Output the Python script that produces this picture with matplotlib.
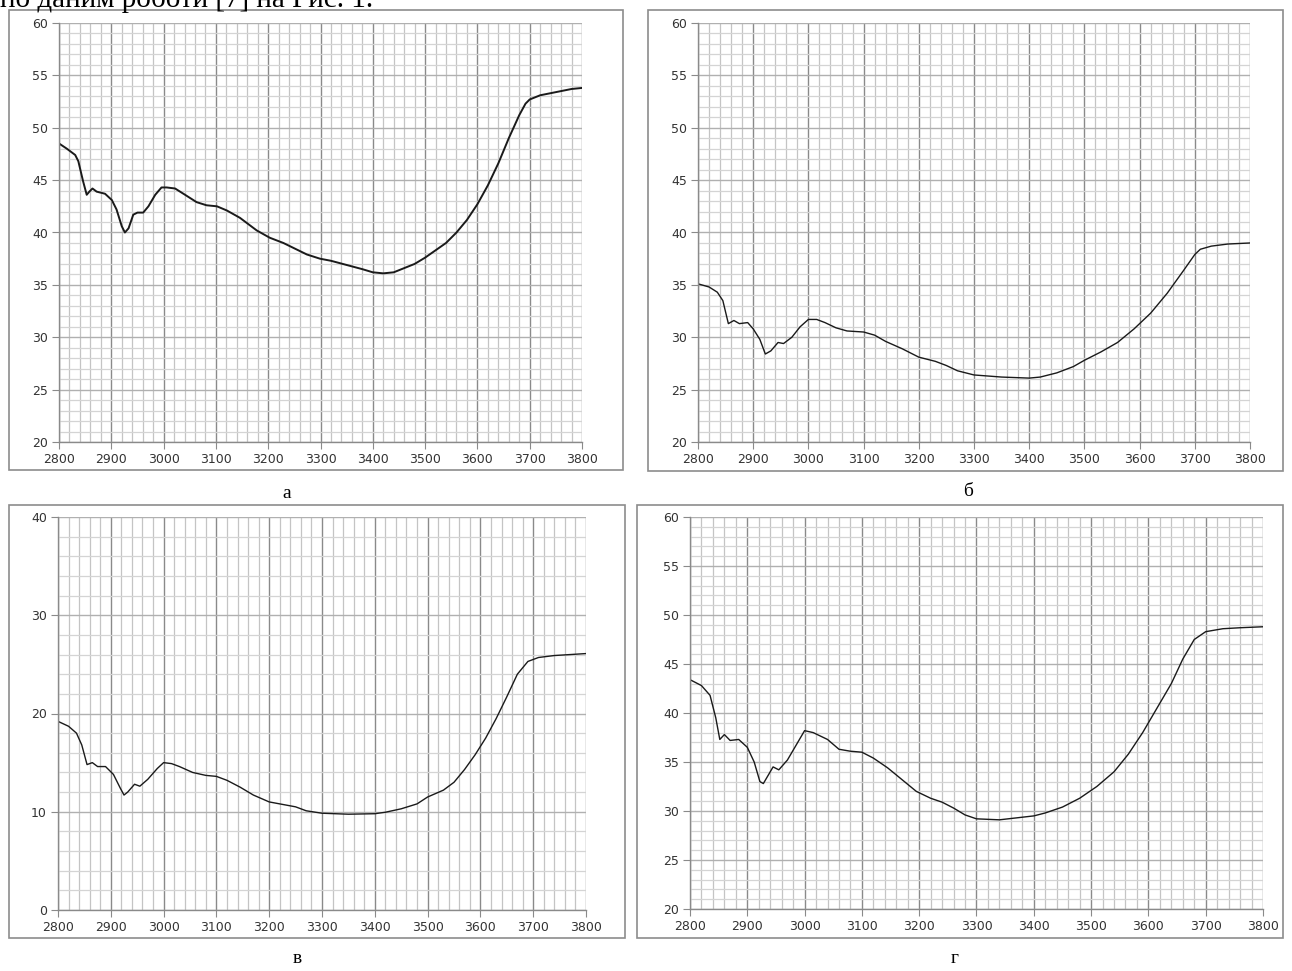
import matplotlib.pyplot as plt
from matplotlib.patches import Rectangle
import numpy as np

# Спектри: хвильове число (см^-1) і пропускання (%)
x_a = [2800, 2815, 2831, 2837, 2846, 2853, 2858, 2864, 2872, 2888, 2901, 2910, 2920, 2926, 2933,
       2942, 2950, 2961, 2971, 2984, 2996, 3006, 3022, 3041, 3063, 3082, 3102, 3121, 3146,
       3178, 3203, 3229, 3274, 3299, 3320, 3350, 3380, 3400, 3420, 3440, 3460, 3480, 3500,
       3520, 3540, 3560, 3580, 3600, 3620, 3640, 3660, 3680, 3692, 3700, 3720, 3740, 3760,
       3780, 3800]
y_a = [48.5, 48.0, 47.4, 46.8, 44.9, 43.6, 43.9, 44.2, 43.9, 43.7, 43.1, 42.2, 40.6, 40.0, 40.4,
       41.7, 41.9, 41.9, 42.5, 43.6, 44.3, 44.3, 44.2, 43.6, 42.9, 42.6, 42.5, 42.1, 41.4,
       40.2, 39.5, 39.0, 37.9, 37.5, 37.3, 36.9, 36.5, 36.2, 36.1, 36.2, 36.6, 37.0, 37.6,
       38.3, 39.0, 40.0, 41.2, 42.7, 44.5, 46.6, 49.0, 51.2, 52.3, 52.7, 53.1, 53.3, 53.5,
       53.7, 53.8]

x_b = [2800, 2820, 2835, 2845, 2855, 2865, 2875, 2890, 2900, 2912, 2922, 2932, 2945, 2955,
       2970, 2985, 3000, 3015, 3030, 3050, 3070, 3100, 3120, 3140, 3170, 3200, 3230, 3250,
       3270, 3300, 3350, 3400, 3420, 3450, 3480, 3500, 3530, 3560, 3590, 3620, 3650, 3680,
       3700, 3710, 3730, 3760, 3800]
y_b = [35.1, 34.8, 34.3, 33.5, 31.3, 31.6, 31.3, 31.4, 30.8, 29.8, 28.4, 28.7, 29.5, 29.4,
       30.0, 31.0, 31.7, 31.7, 31.4, 30.9, 30.6, 30.5, 30.2, 29.6, 28.9, 28.1, 27.7, 27.3,
       26.8, 26.4, 26.2, 26.1, 26.2, 26.6, 27.2, 27.8, 28.6, 29.5, 30.8, 32.3, 34.2, 36.4,
       37.9, 38.4, 38.7, 38.9, 39.0]

x_c = [2800, 2820, 2835, 2845, 2855, 2865, 2875, 2890, 2905, 2918, 2925, 2932, 2945, 2955,
       2970, 2988, 3000, 3015, 3030, 3055, 3080, 3100, 3120, 3145, 3170, 3200, 3230, 3250,
       3270, 3300, 3350, 3400, 3420, 3450, 3480, 3500, 3530, 3550, 3570, 3590, 3610, 3630,
       3650, 3670, 3690, 3710, 3740, 3770, 3800]
y_c = [19.2, 18.7, 18.0, 16.8, 14.8, 15.0, 14.6, 14.6, 13.8, 12.4, 11.7, 12.0, 12.8, 12.6,
       13.3, 14.4, 15.0, 14.9, 14.6, 14.0, 13.7, 13.6, 13.2, 12.5, 11.7, 11.0, 10.7, 10.5,
       10.1, 9.85, 9.75, 9.8, 9.95, 10.3, 10.8, 11.5, 12.2, 13.0, 14.3, 15.8, 17.5, 19.5,
       21.7, 24.0, 25.3, 25.7, 25.9, 26.0, 26.1]

x_d = [2800, 2820, 2835, 2845, 2852, 2860, 2870, 2885, 2900, 2912, 2922, 2928, 2935, 2945,
       2955, 2970, 2988, 3000, 3015, 3040, 3060, 3080, 3100, 3120, 3145, 3170, 3195, 3220,
       3240, 3260, 3280, 3300, 3340, 3370, 3400, 3420, 3450, 3480, 3510, 3540, 3565, 3590,
       3615, 3640, 3660, 3680, 3700, 3730, 3760, 3800]
y_d = [43.4, 42.8, 41.8, 39.5, 37.3, 37.8, 37.2, 37.3, 36.5, 35.0, 33.0, 32.8, 33.5, 34.5,
       34.2, 35.2, 37.0, 38.2, 38.0, 37.3, 36.3, 36.1, 36.0, 35.4, 34.4, 33.2, 32.0, 31.3,
       30.9, 30.3, 29.6, 29.2, 29.1, 29.3, 29.5, 29.8, 30.4, 31.3, 32.5, 34.0, 35.8, 38.0,
       40.5, 43.0, 45.5, 47.5, 48.3, 48.6, 48.7, 48.8]

W, H = 1292, 971
fig = plt.figure(figsize=(W / 100, H / 100), dpi=100)


def px_axes(l, r, t, b):
    return fig.add_axes([l / W, 1 - b / H, (r - l) / W, (b - t) / H])


def frame(l, r, t, b):
    fig.patches.append(Rectangle((l / W, 1 - b / H), (r - l) / W, (b - t) / H,
                                 transform=fig.transFigure, fill=False,
                                 edgecolor='#8c8c8c', lw=1.2))


def panel(ax, x, y, ylim, ymaj, ymin, lw):
    ax.set_xlim(2800, 3800)
    ax.set_ylim(*ylim)
    ax.set_xticks(np.arange(2800, 3801, 100))
    ax.set_xticks(np.arange(2800, 3801, 20), minor=True)
    ax.set_yticks(np.arange(ylim[0], ylim[1] + 0.1, ymaj))
    ax.set_yticks(np.arange(ylim[0], ylim[1] + 0.1, ymin), minor=True)
    ax.grid(which='minor', axis='x', color='#c4c4c4', lw=0.9)
    ax.grid(which='minor', axis='y', color='#d4d4d4', lw=0.9)
    ax.grid(which='major', axis='x', color='#8a8a8a', lw=1.0)
    ax.grid(which='major', axis='y', color='#b0b0b0', lw=1.0)
    ax.set_axisbelow(True)
    for s in ['top', 'right']:
        ax.spines[s].set_visible(False)
    for s in ['left', 'bottom']:
        ax.spines[s].set_color('#8a8a8a')
        ax.spines[s].set_linewidth(1.0)
    ax.tick_params(which='major', length=5, color='#8a8a8a', labelsize=9,
                   labelcolor='#333333', pad=3)
    ax.tick_params(which='minor', length=0)
    ax.plot(x, y, color='#1a1a1a', lw=lw)


frame(9, 623, 10, 470)
frame(648, 1283, 10, 471)
frame(9, 625, 505, 938)
frame(637, 1283, 505, 938)

panel(px_axes(59, 582, 23, 442), x_a, y_a, (20, 60), 5, 1, 1.4)
panel(px_axes(698, 1250, 23, 442), x_b, y_b, (20, 60), 5, 1, 1.0)
panel(px_axes(58, 586, 517, 910), x_c, y_c, (0, 40), 10, 2, 1.0)
panel(px_axes(690, 1263, 517, 909), x_d, y_d, (20, 60), 5, 1, 1.0)

serif = ['Liberation Serif', 'DejaVu Serif']
fig.text(0, 1 - 7 / H, 'по даним роботи [7] на Рис. 1.', family=serif, fontsize=21,
         ha='left', va='baseline')
for lab, cx, cy in [('а', 287, 493), ('б', 968, 491), ('в', 297, 958), ('г', 955, 958)]:
    fig.text(cx / W, 1 - cy / H, lab, family=serif, fontsize=14, ha='center', va='center')

fig.savefig('out.png', dpi=100)
